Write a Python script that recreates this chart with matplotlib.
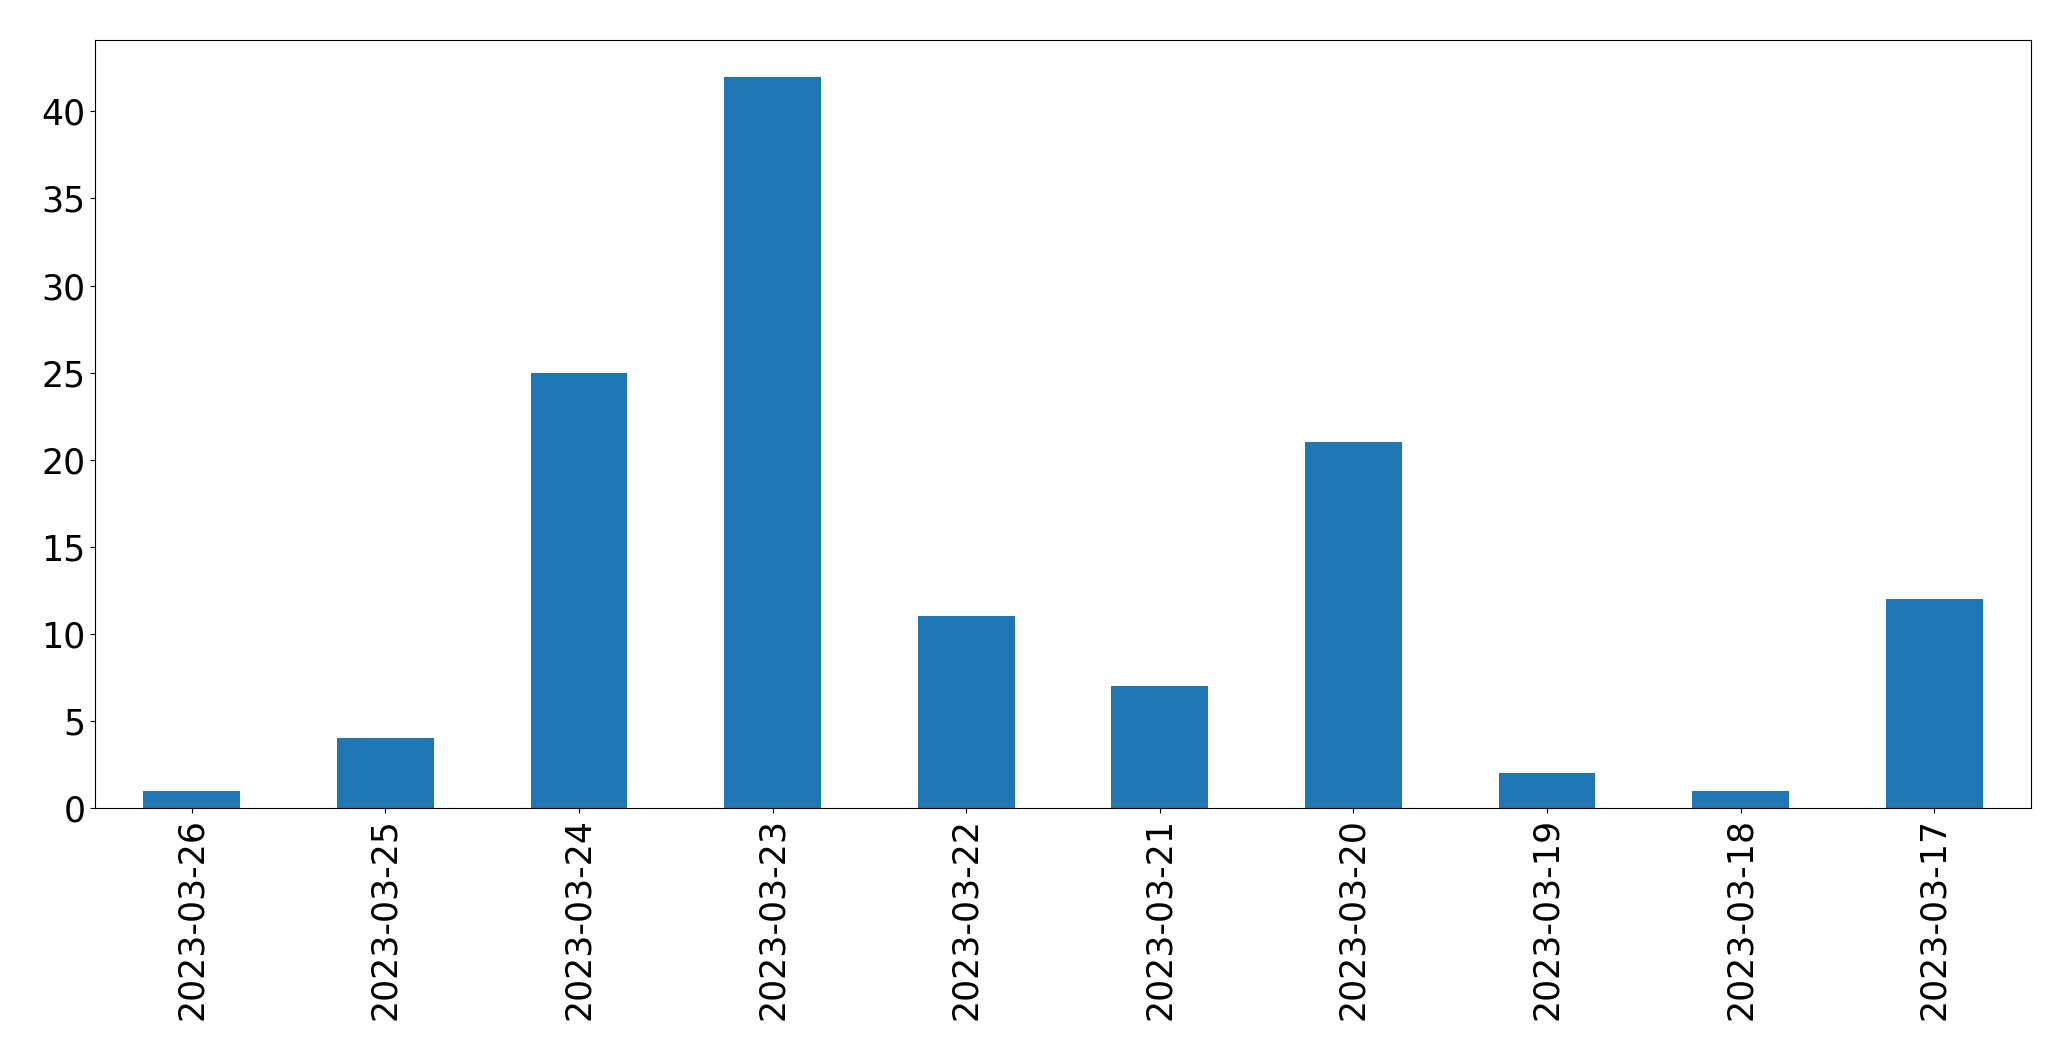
import matplotlib
matplotlib.use("Agg")
import matplotlib.pyplot as plt
import numpy as np

dates = ["2023-03-26", "2023-03-25", "2023-03-24", "2023-03-23", "2023-03-22",
         "2023-03-21", "2023-03-20", "2023-03-19", "2023-03-18", "2023-03-17"]
counts = [1, 4, 25, 42, 11, 7, 21, 2, 1, 12]

fig = plt.figure(figsize=(20.71, 10.61), dpi=100)
ax = fig.add_axes([95/2071, 1 - 808/1061, (2031-95)/2071, (808-40)/1061])
x = np.arange(len(dates))
ax.bar(x, counts, width=0.5, color="#1f77b4")
ax.set_xlim(-0.5, len(dates) - 0.5)
ax.set_ylim(0, 44.1)
ax.set_xticks(x)
ax.set_xticklabels(dates, rotation=90)
ax.tick_params(labelsize=25)
fig.savefig("out.png", dpi=100)
